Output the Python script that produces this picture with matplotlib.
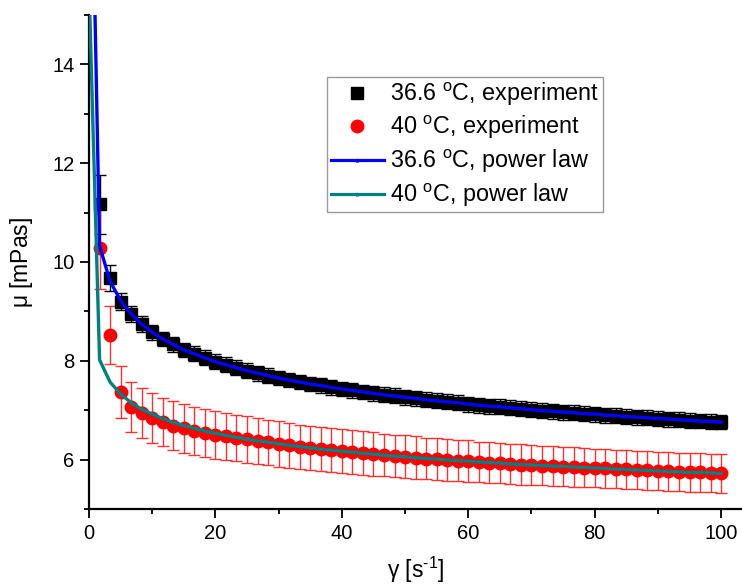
import matplotlib
matplotlib.use("Agg")
import matplotlib.pyplot as plt
from matplotlib.lines import Line2D
from matplotlib.ticker import MultipleLocator

plt.rcParams['font.family'] = ['Liberation Sans', 'DejaVu Sans']
plt.rcParams['mathtext.fontset'] = 'custom'
plt.rcParams['mathtext.rm'] = 'Liberation Sans'
plt.rcParams['mathtext.it'] = 'Liberation Sans:italic'
plt.rcParams['mathtext.default'] = 'regular'

# shear rate [1/s]
shear = [1.67, 3.33, 5.00, 6.67, 8.33, 10.00, 11.67, 13.33, 15.00, 16.67,
         18.33, 20.00, 21.67, 23.33, 25.00, 26.67, 28.33, 30.00, 31.67, 33.33,
         35.00, 36.67, 38.33, 40.00, 41.67, 43.33, 45.00, 46.67, 48.33, 50.00,
         51.67, 53.33, 55.00, 56.67, 58.33, 60.00, 61.67, 63.33, 65.00, 66.67,
         68.33, 70.00, 71.67, 73.33, 75.00, 76.67, 78.33, 80.00, 81.67, 83.33,
         85.00, 86.67, 88.33, 90.00, 91.67, 93.33, 95.00, 96.67, 98.33, 100.00]

# 36.6 C experiment
mu_366 = [11.17, 9.68, 9.20, 8.94, 8.74, 8.58, 8.44, 8.33, 8.22, 8.14,
          8.06, 7.98, 7.92, 7.86, 7.80, 7.75, 7.70, 7.65, 7.61, 7.57,
          7.53, 7.50, 7.46, 7.43, 7.40, 7.37, 7.34, 7.31, 7.29, 7.26,
          7.24, 7.21, 7.19, 7.17, 7.15, 7.12, 7.10, 7.08, 7.07, 7.05,
          7.03, 7.01, 6.99, 6.98, 6.96, 6.95, 6.93, 6.92, 6.90, 6.89,
          6.87, 6.86, 6.85, 6.83, 6.82, 6.81, 6.79, 6.78, 6.77, 6.76]
err_366 = [0.60, 0.26, 0.18, 0.16, 0.16, 0.15, 0.15, 0.15, 0.15, 0.15,
           0.15, 0.15, 0.15, 0.15, 0.15, 0.15, 0.15, 0.15, 0.15, 0.15,
           0.15, 0.15, 0.15, 0.15, 0.15, 0.15, 0.15, 0.15, 0.15, 0.15,
           0.15, 0.15, 0.15, 0.15, 0.15, 0.15, 0.15, 0.15, 0.15, 0.15,
           0.15, 0.15, 0.15, 0.15, 0.15, 0.15, 0.15, 0.15, 0.15, 0.15,
           0.15, 0.15, 0.15, 0.15, 0.15, 0.15, 0.15, 0.15, 0.15, 0.15]

# 40 C experiment
mu_40 = [10.29, 8.52, 7.37, 7.06, 6.94, 6.84, 6.76, 6.69, 6.63, 6.58,
         6.54, 6.50, 6.47, 6.44, 6.41, 6.38, 6.35, 6.32, 6.29, 6.26,
         6.24, 6.21, 6.19, 6.17, 6.15, 6.13, 6.11, 6.09, 6.07, 6.06,
         6.04, 6.02, 6.01, 5.99, 5.98, 5.97, 5.95, 5.94, 5.93, 5.91,
         5.90, 5.89, 5.88, 5.87, 5.86, 5.85, 5.84, 5.83, 5.82, 5.81,
         5.80, 5.79, 5.78, 5.77, 5.76, 5.75, 5.74, 5.74, 5.73, 5.72]
err_40 = [0.83, 0.58, 0.53, 0.51, 0.50, 0.50, 0.49, 0.49, 0.49, 0.48,
          0.48, 0.48, 0.47, 0.47, 0.47, 0.46, 0.46, 0.46, 0.46, 0.45,
          0.45, 0.45, 0.45, 0.44, 0.44, 0.44, 0.44, 0.43, 0.43, 0.43,
          0.43, 0.42, 0.42, 0.42, 0.42, 0.42, 0.41, 0.41, 0.41, 0.41,
          0.41, 0.40, 0.40, 0.40, 0.40, 0.40, 0.40, 0.39, 0.39, 0.39,
          0.39, 0.39, 0.39, 0.39, 0.39, 0.39, 0.39, 0.39, 0.39, 0.39]

# power-law fits
fit_x_366 = [0.60] + shear
fit_366 = [17.30, 10.33, 9.61, 9.22, 8.95, 8.74, 8.58, 8.44, 8.33, 8.22, 8.14,
           8.06, 7.98, 7.92, 7.86, 7.80, 7.75, 7.70, 7.65, 7.61, 7.57,
           7.53, 7.50, 7.46, 7.43, 7.40, 7.37, 7.34, 7.31, 7.29, 7.26,
           7.24, 7.21, 7.19, 7.17, 7.15, 7.12, 7.10, 7.08, 7.07, 7.05,
           7.03, 7.01, 6.99, 6.98, 6.96, 6.95, 6.93, 6.92, 6.90, 6.89,
           6.87, 6.86, 6.85, 6.83, 6.82, 6.81, 6.79, 6.78, 6.77, 6.76]
fit_x_40 = [0.00] + shear
fit_40 = [15.60, 8.02, 7.57, 7.33, 7.15, 7.02, 6.92, 6.83, 6.75, 6.69, 6.63,
          6.58, 6.53, 6.49, 6.45, 6.41, 6.38, 6.35, 6.32, 6.29, 6.26,
          6.24, 6.21, 6.19, 6.17, 6.15, 6.13, 6.11, 6.09, 6.07, 6.06,
          6.04, 6.02, 6.01, 5.99, 5.98, 5.97, 5.95, 5.94, 5.93, 5.91,
          5.90, 5.89, 5.88, 5.87, 5.86, 5.85, 5.84, 5.83, 5.82, 5.81,
          5.80, 5.79, 5.78, 5.77, 5.76, 5.75, 5.74, 5.74, 5.73, 5.72]

labels = [r'36.6 $^{\mathrm{o}}$C, experiment', r'40 $^{\mathrm{o}}$C, experiment',
          r'36.6 $^{\mathrm{o}}$C, power law', r'40 $^{\mathrm{o}}$C, power law']

fig = plt.figure(figsize=(7.42, 5.87), dpi=100)
ax = fig.add_axes([89/742, 78/587, 653/742, 494/587])

ax.errorbar(shear, mu_366, yerr=err_366, fmt='s', color='black', ms=8.5,
            ecolor='black', elinewidth=1, capsize=4.5, capthick=1, zorder=2)
ax.errorbar(shear, mu_40, yerr=err_40, fmt='o', color='red', ms=9,
            ecolor='#ff3030', elinewidth=1, capsize=4, capthick=1, zorder=2)
ax.plot(fit_x_366, fit_366, color='#0000ff', lw=2.4, zorder=3)
ax.plot(fit_x_40, fit_40, color='#008080', lw=2.4, zorder=3)

ax.set_xlim(0, 103.3)
ax.set_ylim(5, 15)
ax.xaxis.set_major_locator(MultipleLocator(20))
ax.xaxis.set_minor_locator(MultipleLocator(10))
ax.yaxis.set_major_locator(MultipleLocator(2))
ax.yaxis.set_minor_locator(MultipleLocator(1))
ax.spines['top'].set_visible(False)
ax.spines['right'].set_visible(False)
for s in ('left', 'bottom'):
    ax.spines[s].set_linewidth(1.6)
ax.tick_params(which='major', direction='out', length=6.5, width=1.3, labelsize=14.5, pad=4)
ax.tick_params(which='minor', direction='out', length=3.5, width=1.3)
ax.yaxis.set_major_formatter(matplotlib.ticker.FormatStrFormatter('%d'))

ax.set_xlabel(r'$\gamma$ [s$^{\text{-1}}$]', fontsize=16.5, labelpad=9)
ax.set_ylabel(r'$\mu$ [mPas]', fontsize=16.5, labelpad=12)

handles = [
    Line2D([], [], ls='none', marker='s', color='black', ms=8),
    Line2D([], [], ls='none', marker='o', color='red', ms=9),
    Line2D([], [], color='#0000ff', lw=2.3, marker='^', ms=2),
    Line2D([], [], color='#008080', lw=2.3, marker='^', ms=2),
]
leg = ax.legend(handles, labels, loc='upper left', bbox_to_anchor=(327/742, 1 - 77/587),
                bbox_transform=fig.transFigure, fontsize=16.8, frameon=True, fancybox=False,
                borderpad=0.15, labelspacing=0.28, handlelength=2.3, handletextpad=0.25,
                borderaxespad=0, numpoints=1)
leg.get_frame().set_edgecolor('#808080')
leg.get_frame().set_linewidth(1.0)

fig.savefig('out.png', dpi=100)
